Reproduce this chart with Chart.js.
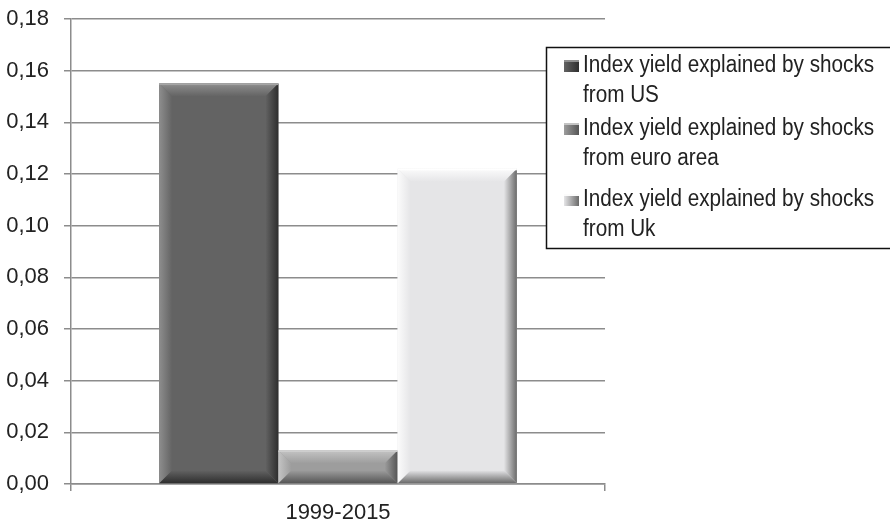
<!DOCTYPE html>
<html>
<head>
<meta charset="utf-8">
<script src="https://cdn.jsdelivr.net/npm/chart.js@4.4.1/dist/chart.umd.min.js"></script>
<style>
  html, body { margin: 0; padding: 0; background: #fff; }
  #wrap { width: 890px; height: 527px; }
</style>
</head>
<body>
<div id="wrap"><canvas id="myChart" width="890" height="527"></canvas></div>
<script>
const categories = ['1999-2015']
const seriesNames = [
  ['Index yield explained by shocks', 'from US'],
  ['Index yield explained by shocks', 'from euro area'],
  ['Index yield explained by shocks', 'from Uk']
]
const usValues = [0.155]
const euroValues = [0.013]
const ukValues = [0.122]
const yTicks = [0, 0.02, 0.04, 0.06, 0.08, 0.10, 0.12, 0.14, 0.16, 0.18]

// face / light / dark shades for the bevelled bars
const shades = [
  { face: '#636363', light: '#8e8e8e', dark: '#2e2e2e', edge: '#a5a5a5' },
  { face: '#9d9d9d', light: '#c4c4c4', dark: '#555555', edge: '#d0d0d0' },
  { face: '#e5e5e7', light: '#fbfbfb', dark: '#6a6a6a', edge: '#ffffff' }
]

const FONT = "'Liberation Sans', Arial, sans-serif"

function grad(ctx, x0, y0, x1, y1, c0, c1) {
  const g = ctx.createLinearGradient(x0, y0, x1, y1)
  g.addColorStop(0, c0)
  g.addColorStop(1, c1)
  return g
}

function poly(ctx, pts, fill) {
  ctx.beginPath()
  ctx.moveTo(pts[0][0], pts[0][1])
  for (let i = 1; i < pts.length; i++) ctx.lineTo(pts[i][0], pts[i][1])
  ctx.closePath()
  ctx.fillStyle = fill
  ctx.fill()
}

const bevelPlugin = {
  id: 'bevel',
  afterDatasetsDraw(chart) {
    const ctx = chart.ctx
    chart.data.datasets.forEach((ds, i) => {
      const meta = chart.getDatasetMeta(i)
      const s = shades[i]
      meta.data.forEach(bar => {
        const L = bar.x - bar.width / 2, R = bar.x + bar.width / 2
        const T = bar.y, B = bar.base
        const b = Math.min(13, (B - T) / 2.5)
        ctx.save()
        poly(ctx, [[L, T], [R, T], [R - b, T + b], [L + b, T + b]], grad(ctx, 0, T, 0, T + b, s.light, s.face))
        poly(ctx, [[L, B], [R, B], [R - b, B - b], [L + b, B - b]], grad(ctx, 0, B, 0, B - b, s.dark, s.face))
        poly(ctx, [[L, T], [L + b, T + b], [L + b, B - b], [L, B]], grad(ctx, L, 0, L + b, 0, s.light, s.face))
        poly(ctx, [[R, T], [R - b, T + b], [R - b, B - b], [R, B]], grad(ctx, R, 0, R - b, 0, s.dark, s.face))
        ctx.fillStyle = s.edge
        ctx.fillRect(L, T, R - L, 1.5)
        ctx.restore()
      })
    })
  }
}

const legendPlugin = {
  id: 'boxLegend',
  afterDraw(chart) {
    const ctx = chart.ctx
    const bx = 546.5, by = 47.5
    ctx.save()
    ctx.fillStyle = '#fff'
    ctx.fillRect(bx, by, 350, 201)
    ctx.strokeStyle = '#111'
    ctx.lineWidth = 1.5
    ctx.strokeRect(bx, by, 350, 201)
    const itemY = [66, 129, 200]
    ctx.font = '23px ' + FONT
    ctx.textBaseline = 'middle'
    ctx.textAlign = 'left'
    seriesNames.forEach((lines, i) => {
      const s = shades[i]
      const y = itemY[i]
      ctx.fillStyle = grad(ctx, 564, 0, 579, 0, s.face, s.dark)
      ctx.fillRect(564, y - 6, 15, 12)
      ctx.fillStyle = s.light
      ctx.fillRect(564, y - 6, 15, 2)
      ctx.fillStyle = '#222'
      lines.forEach((t, k) => {
        ctx.save()
        ctx.translate(583, y + k * 30)
        ctx.scale(0.9, 1)
        ctx.fillText(t, 0, 0)
        ctx.restore()
      })
    })
    ctx.restore()
  }
}

const ctx = document.getElementById('myChart')

new Chart(ctx, {
  type: 'bar',
  data: {
    labels: categories,
    datasets: [
      { label: seriesNames[0].join(' '), data: usValues, backgroundColor: shades[0].face },
      { label: seriesNames[1].join(' '), data: euroValues, backgroundColor: shades[1].face },
      { label: seriesNames[2].join(' '), data: ukValues, backgroundColor: shades[2].face }
    ]
  },
  options: {
    responsive: false,
    animation: false,
    devicePixelRatio: 1,
    layout: { padding: { left: 0, right: 285, top: 19, bottom: 0 } },
    datasets: { bar: { categoryPercentage: 0.67, barPercentage: 1, borderWidth: 0 } },
    plugins: {
      legend: { display: false },
      tooltip: { enabled: false }
    },
    scales: {
      x: {
        grid: { drawOnChartArea: false, drawTicks: true, tickLength: 7, color: '#8c8c8c', lineWidth: 1.5 },
        border: { color: '#8c8c8c', width: 1.5 },
        ticks: { color: '#222', font: { family: FONT, size: 22 }, padding: 9 },
        afterFit: s => { s.height = 43; s.paddingLeft = 0; s.paddingRight = 0 }
      },
      y: {
        min: 0,
        max: 0.18,
        afterBuildTicks: s => { s.ticks = yTicks.map(v => ({ value: v })) },
        grid: { color: '#8c8c8c', lineWidth: 1.5, tickLength: 7 },
        border: { color: '#8c8c8c', width: 1.5 },
        ticks: {
          color: '#222',
          font: { family: FONT, size: 22 },
          padding: 15,
          callback: v => v.toFixed(2).replace('.', ',')
        },
        afterFit: s => { s.width = 71; s.paddingTop = 0; s.paddingBottom = 0 }
      }
    }
  },
  plugins: [bevelPlugin, legendPlugin]
})
</script>
</body>
</html>
